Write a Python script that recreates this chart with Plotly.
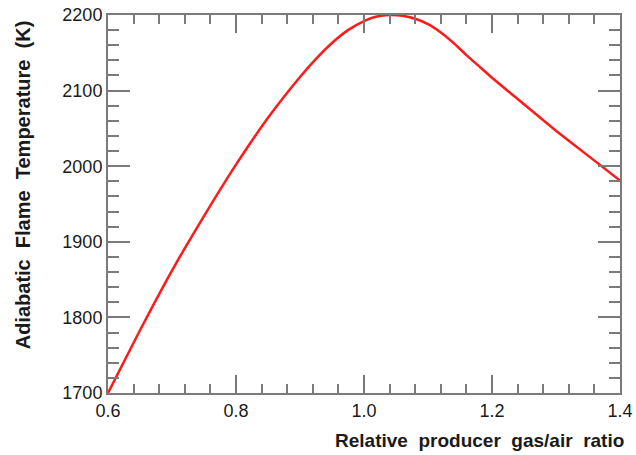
import plotly.graph_objects as go

ratio = [0.60, 0.65, 0.70, 0.75, 0.80, 0.85, 0.90, 0.925, 0.95, 0.975, 1.00, 1.02, 1.04,
         1.06, 1.08, 1.10, 1.12, 1.14, 1.16, 1.18, 1.20, 1.25, 1.30, 1.35, 1.40]
temperature = [1700, 1783, 1862, 1934, 2002, 2064, 2118, 2142, 2163, 2180, 2192, 2198, 2200,
               2199, 2195, 2188, 2177, 2163, 2147, 2132, 2117, 2082, 2047, 2014, 1981]

x_title = "Relative producer gas/air ratio"
y_title = "Adiabatic Flame Temperature (K)"

FONT = "Liberation Sans, Arial, sans-serif"

fig = go.Figure()
fig.add_trace(go.Scatter(x=ratio, y=temperature, mode="lines",
                         line=dict(color="#ff1a1a", width=2.5, shape="spline", smoothing=0.5)))

axis_common = dict(showgrid=False, zeroline=False, showline=True, linecolor="#7a7a7a", linewidth=2,
                   mirror="allticks", ticks="inside", tickcolor="#7a7a7a", tickwidth=2, automargin=False,
                   tickfont=dict(family=FONT, size=18, color="#1a1a1a"))

fig.update_layout(
    width=636, height=455,
    margin=dict(l=108, r=16, t=15, b=62),
    paper_bgcolor="white", plot_bgcolor="white",
    showlegend=False,
    xaxis=dict(range=[0.6, 1.4], dtick=0.2, tick0=0.6, ticklen=18, tickformat=".1f",
               minor=dict(dtick=0.04, tick0=0.6, ticklen=9, ticks="inside", tickcolor="#7a7a7a", tickwidth=2),
               **axis_common),
    yaxis=dict(range=[1700, 2200], dtick=100, ticklen=22,
               minor=dict(dtick=20, ticklen=11, ticks="inside", tickcolor="#7a7a7a", tickwidth=2),
               **axis_common),
)

def spaced(s):
    return s.replace(" ", "&nbsp; ")

fig.add_annotation(text="<b>" + spaced(x_title) + "</b>", xref="paper", yref="paper",
                   x=1.012, y=-0.125, xanchor="right", yanchor="middle", showarrow=False,
                   font=dict(family=FONT, size=19, color="#1a1a1a"))
fig.add_annotation(text="<b>" + spaced(y_title) + "</b>", xref="paper", yref="paper",
                   x=-0.166, y=0.99, xanchor="center", yanchor="top", textangle=-90, showarrow=False,
                   font=dict(family=FONT, size=20, color="#1a1a1a"))

fig.write_html("out.html")
